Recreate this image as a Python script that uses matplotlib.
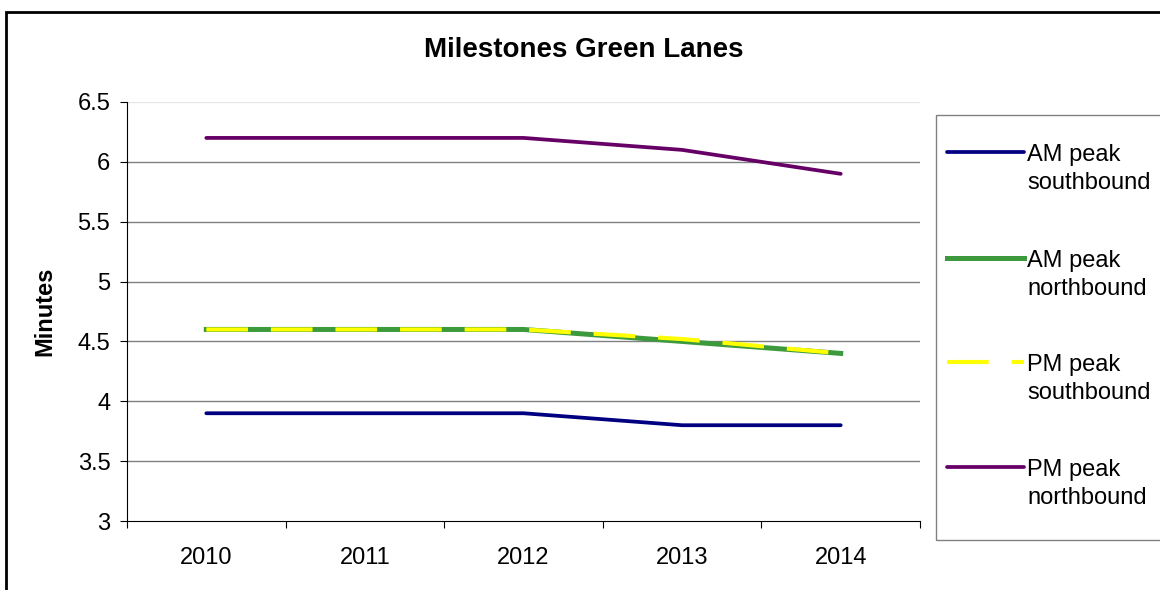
import matplotlib
matplotlib.use("Agg")
import matplotlib.pyplot as plt
from matplotlib.patches import Rectangle
from matplotlib.lines import Line2D

plt.rcParams['font.family'] = ['Liberation Sans', 'DejaVu Sans']
plt.rcParams['lines.scale_dashes'] = False

years = ["2010", "2011", "2012", "2013", "2014"]
am_south = [3.9, 3.9, 3.9, 3.8, 3.8]
am_north = [4.6, 4.6, 4.6, 4.5, 4.4]
pm_south = [4.6, 4.6, 4.6, 4.52, 4.4]
pm_north = [6.2, 6.2, 6.2, 6.1, 5.9]
labels = ["AM peak\nsouthbound", "AM peak\nnorthbound", "PM peak\nsouthbound", "PM peak\nnorthbound"]
title = "Milestones Green Lanes"
ylabel = "Minutes"

W, H = 1160, 590
fig = plt.figure(figsize=(W / 100, H / 100), dpi=100)
ax = fig.add_axes([127 / W, 1 - 521 / H, (920 - 127) / W, (521 - 102) / H])

styles = [
    dict(color="#000080", lw=2.7, solid_capstyle="round", zorder=3),
    dict(color="#3c9a3c", lw=3.6, zorder=3),
    dict(color="#ffff00", lw=3.0, ls=(0, (30, 16.5)), zorder=4),
    dict(color="#660066", lw=2.7, solid_capstyle="round", zorder=3),
]
series = [am_south, am_north, pm_south, pm_north]

x = list(range(len(years)))
for vals, st in zip(series, styles):
    ax.plot(x, vals, **st)

ax.set_xlim(-0.5, len(years) - 0.5)
ax.set_ylim(3, 6.5)
ax.set_yticks([3, 3.5, 4, 4.5, 5, 5.5, 6, 6.5])
ax.set_yticklabels(["3", "3.5", "4", "4.5", "5", "5.5", "6", "6.5"])
for yv in [3.5, 4, 4.5, 5, 5.5, 6]:
    ax.axhline(yv, color="#808080", lw=1.0, zorder=1)
ax.axhline(6.5, color="#e6e6e6", lw=1.0, zorder=1)

ax.set_xticks([i - 0.5 for i in range(len(years) + 1)])
ax.set_xticklabels([])
ax.set_xticks(x, minor=True)
ax.set_xticklabels(years, minor=True)
ax.tick_params(axis="x", which="major", direction="out", length=5, width=0.8, color="black")
ax.tick_params(axis="x", which="minor", length=0, pad=19, labelsize=17)
ax.tick_params(axis="y", direction="out", length=5, width=0.8, pad=7, labelsize=17)

for s in ["top", "right"]:
    ax.spines[s].set_visible(False)
for s in ["left", "bottom"]:
    ax.spines[s].set_color("black")
    ax.spines[s].set_linewidth(0.8)

fig.text(45 / W, 1 - 311 / H, ylabel, rotation=90, ha="center", va="center",
         fontsize=17, fontweight="bold")
fig.text(584 / W, 1 - 50 / H, title, ha="center", va="center", fontsize=20, fontweight="bold")

# legend box (extends past right edge as in the reference)
fig.add_artist(Rectangle((936 / W, 1 - 540 / H), 0.5, (540 - 115) / H,
                         transform=fig.transFigure, facecolor="white",
                         edgecolor="#808080", lw=1.0, clip_on=False, zorder=5))
handle_y = [152, 258, 362, 467]
for lab, st, hy in zip(labels, styles, handle_y):
    st2 = dict(st)
    st2["zorder"] = 6
    fig.add_artist(Line2D([947 / W, 1024 / W], [1 - hy / H, 1 - hy / H],
                          transform=fig.transFigure, **st2))
    fig.text(1027 / W, 1 - (hy + 17) / H, lab, ha="left", va="center",
             fontsize=17, linespacing=1.35, zorder=6)

fig.add_artist(Rectangle((6 / W, -0.1), 2, 1 - 12 / H + 0.1, transform=fig.transFigure,
                         fill=False, edgecolor="black", lw=2, clip_on=False))

fig.savefig("out.png", dpi=100)
